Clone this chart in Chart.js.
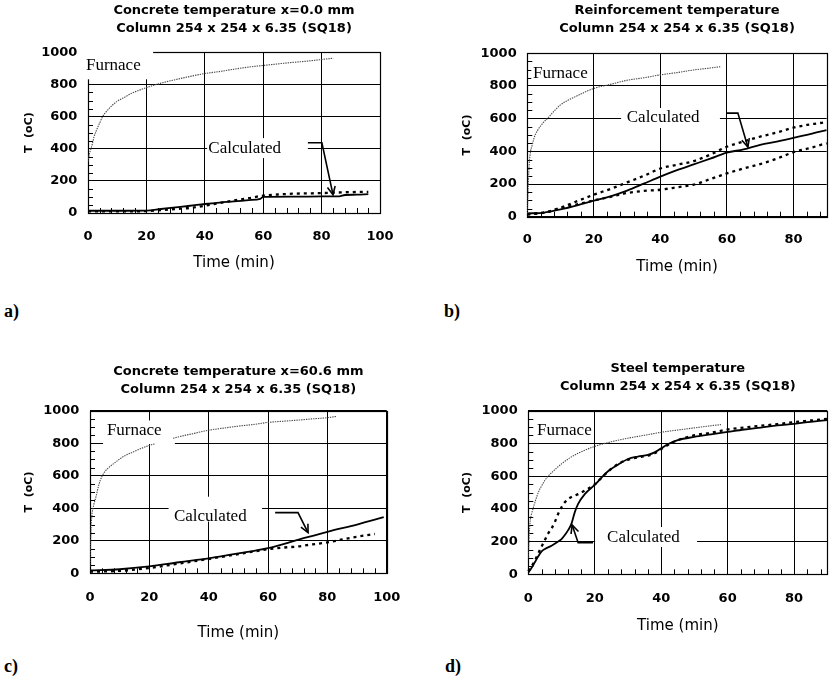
<!DOCTYPE html>
<html><head><meta charset="utf-8">
<script src="https://cdn.jsdelivr.net/npm/chart.js@4.4.0/dist/chart.umd.min.js"></script>
<style>
html,body{margin:0;padding:0;background:#fff}
body{width:835px;height:692px;position:relative;overflow:hidden}
canvas{position:absolute}
.lbl{position:absolute;font:bold 18px "Liberation Serif",serif;color:#000;line-height:18px}
</style></head><body>
<canvas id="ca" width="420" height="272" style="left:0px;top:0px"></canvas>
<canvas id="cb" width="415" height="276" style="left:420px;top:0px"></canvas>
<canvas id="cc" width="420" height="303" style="left:0px;top:340px"></canvas>
<canvas id="cd" width="415" height="295" style="left:420px;top:340px"></canvas>
<div class="lbl" style="left:4px;top:302px">a)</div>
<div class="lbl" style="left:444px;top:302px">b)</div>
<div class="lbl" style="left:4px;top:657px">c)</div>
<div class="lbl" style="left:445px;top:657px">d)</div>
<script>
// ---------- tick labels ----------
const yTickValues = [0, 200, 400, 600, 800, 1000];
const xTicks100 = [0, 20, 40, 60, 80, 100];
const xTicks90 = [0, 20, 40, 60, 80];

// ---------- titles ----------
const titleA = ['Concrete temperature x=0.0 mm', 'Column 254 x 254 x 6.35 (SQ18)'];
const titleB = ['Reinforcement temperature', 'Column 254 x 254 x 6.35 (SQ18)'];
const titleC = ['Concrete temperature x=60.6 mm', 'Column 254 x 254 x 6.35 (SQ18)'];
const titleD = ['Steel temperature', 'Column 254 x 254 x 6.35 (SQ18)'];
const xAxisTitle = 'Time (min)';
const yAxisTitle = 'T  (oC)';
const furnaceLabel = 'Furnace';
const calcLabel = 'Calculated';

// ---------- panel a) concrete x=0.0 mm ----------
const aFurnaceT = [0, 0.5, 1, 1.5, 2, 3, 4, 5, 6, 8, 10, 12, 15, 20, 25, 30, 35, 40, 45, 50, 55, 60, 65, 70, 75, 80, 84];
const aFurnaceV = [320, 370, 400, 430, 470, 520, 560, 600, 625, 665, 695, 715, 745, 780, 808, 830, 850, 868, 880, 895, 908, 918, 928, 937, 945, 955, 963];
const aCalcT = [0, 10, 20, 25, 30, 35, 40, 45, 50, 55, 59, 60, 70, 80, 86, 88, 92, 96];
const aCalcV = [14, 14, 15, 25, 35, 45, 56, 65, 72, 80, 88, 100, 102, 103, 104, 112, 114, 118];
const aTestT = [0, 10, 20, 25, 30, 35, 40, 45, 50, 55, 60, 65, 70, 75, 80, 85, 90, 96];
const aTestV = [10, 10, 12, 18, 25, 32, 45, 62, 78, 92, 108, 115, 120, 122, 124, 127, 130, 132];

// ---------- panel b) reinforcement ----------
const bFurnaceT = [0, 0.3, 0.6, 1, 1.5, 2, 3, 4, 5, 6, 8, 10, 12, 15, 20, 25, 30, 35, 40, 45, 50, 55, 58];
const bFurnaceV = [20, 200, 330, 400, 440, 480, 525, 555, 580, 600, 645, 685, 710, 740, 785, 810, 835, 850, 868, 882, 898, 910, 918];
const bCalcT = [0, 5, 10, 15, 20, 25, 30, 35, 40, 45, 50, 55, 60, 65, 70, 75, 80, 85, 90];
const bCalcV = [20, 25, 45, 70, 98, 125, 160, 202, 245, 285, 320, 355, 392, 412, 440, 460, 482, 505, 530];
const bTestUpperT = [0, 5, 10, 15, 20, 25, 30, 35, 40, 45, 50, 55, 60, 65, 70, 75, 80, 85, 90, 92];
const bTestUpperV = [15, 25, 55, 95, 135, 170, 210, 250, 295, 318, 340, 380, 428, 460, 490, 515, 545, 565, 582, 600];
const bTestLowerT = [0, 5, 10, 15, 20, 25, 30, 35, 40, 45, 50, 55, 60, 65, 70, 75, 80, 85, 90, 92];
const bTestLowerV = [15, 25, 50, 75, 100, 122, 145, 158, 165, 180, 196, 230, 265, 295, 322, 355, 395, 420, 449, 455];

// ---------- panel c) concrete x=60.6 mm ----------
const cFurnaceT = [0, 0.3, 0.6, 1, 2, 3, 4, 5, 6, 8, 10, 12, 15, 20, 22, 25, 28, 30, 35, 40, 45, 50, 55, 60, 65, 70, 75, 80, 83];
const cFurnaceV = [40, 250, 350, 400, 470, 545, 595, 625, 645, 675, 703, 725, 750, 787, 796, null, 830, 840, 860, 880, 893, 905, 915, 928, 935, 942, 950, 957, 965];
const cCalcT = [0, 10, 20, 30, 40, 50, 60, 70, 80, 90, 99];
const cCalcV = [18, 25, 42, 68, 92, 122, 155, 205, 255, 300, 345];
const cTestT = [0, 10, 20, 30, 40, 50, 60, 65, 70, 75, 80, 85, 90, 96];
const cTestV = [10, 15, 33, 60, 88, 118, 148, 158, 165, 178, 190, 208, 225, 242];

// ---------- panel d) steel ----------
const dFurnaceT = [0, 0.3, 0.6, 1, 2, 3, 4, 5, 6, 8, 10, 12, 15, 20, 25, 30, 35, 40, 45, 50, 55, 58];
const dFurnaceV = [100, 250, 330, 370, 440, 500, 540, 575, 600, 640, 675, 705, 740, 782, 810, 832, 850, 868, 882, 895, 908, 915];
const dCalcT = [0, 1, 2, 3, 4, 5, 7, 9, 10, 11, 12, 13, 14, 15, 17, 20, 22, 24, 27, 30, 33, 36, 38, 40, 42, 45, 50, 55, 60, 65, 70, 75, 80, 85, 90];
const dCalcV = [10, 40, 75, 110, 140, 155, 175, 200, 215, 240, 270, 310, 380, 430, 490, 546, 590, 630, 670, 705, 720, 730, 745, 770, 795, 820, 840, 855, 870, 885, 897, 910, 920, 932, 943];
const dTestT = [0, 1, 2, 3, 4, 5, 6, 7, 8, 9, 10, 11, 12, 13, 15, 17, 20, 22, 25, 28, 30, 33, 36, 38, 40, 42, 45, 50, 55, 60, 65, 70, 75, 80, 85, 90, 92];
const dTestV = [20, 50, 85, 128, 170, 210, 250, 280, 320, 370, 410, 440, 460, 472, 490, 512, 550, 590, 645, 685, 700, 715, 725, 740, 765, 790, 820, 850, 865, 885, 897, 908, 918, 930, 940, 950, 955];

// ---------- layout (pixels) ----------
const layouts = {
  a: {yW: 88, padR: 40, padB: 0, tLH: 17.6, tPT: 1.9, tPB: 15.2, xH: 59, xTickPad: 15.5, yTitlePad: 22.4, xMax: 100},
  b: {yW: 107.3, padR: 8.3, padB: 0.3, tLH: 17.6, tPT: 1.9, tPB: 16.2, xH: 59, xTickPad: 15.5, yTitlePad: 40.1, xMax: 90},
  c: {yW: 90, padR: 33.3, padB: 0.7, tLH: 18.3, tPT: 22.55, tPB: 11.55, xH: 69, xTickPad: 16.2, yTitlePad: 22.7, xMax: 100},
  d: {yW: 108.3, padR: 7.7, padB: 0, tLH: 18.4, tPT: 19.1, tPB: 14.8, xH: 60.7, xTickPad: 16.2, yTitlePad: 40.1, xMax: 90}
};

// annotation placement in data units: label [x, y], white boxes [x0, x1, y0, y1], arrow polyline
const annos = {
  a: {furn: [-0.7, 915], calc: [41.2, 404],
      boxes: [[-3, 22.3, 832, 1050], [40.8, 75.3, 342, 466]],
      arrow: [[75.3, 437], [80.1, 437], [83.9, 114]]},
  b: {furn: [1.7, 878], calc: [29.9, 604],
      boxes: [[1.2, 19, 820, 940], [28.2, 57.9, 543, 665]],
      arrow: [[60, 634], [63.3, 634], [66.3, 427]]},
  c: {furn: [5.7, 877], calc: [28.3, 348],
      boxes: [[4.4, 28.6, 795, 940], [26.5, 58, 318, 471]],
      arrow: [[62.4, 373], [70.1, 373], [73.5, 250]]},
  d: {furn: [2.6, 878], calc: [23.7, 226],
      boxes: [[2, 19.3, 825, 935], [20.1, 50.8, 167, 289]],
      arrow: [[19.5, 193], [15, 193], [13.2, 301]]}
};

const pts = (t, v) => t.map((x, i) => ({x: x, y: v[i]}));

const furnaceStyle = {borderColor: '#4a4a4a', borderWidth: 1.1, borderDash: [1.4, 1]};
const calcStyle = {borderColor: '#000', borderWidth: 1.8};
const testStyle = {borderColor: '#000', borderWidth: 2.3, borderDash: [3, 4]};

const annoPlugin = {
  id: 'anno',
  beforeDatasetsDraw(chart) {
    const {ctx, chartArea: ca, scales: {x, y}} = chart;
    const an = chart.options.plugins.anno;
    ctx.save();
    ctx.strokeStyle = '#000';
    ctx.lineWidth = 1;
    ctx.beginPath();
    for (let t = 4; t < x.max; t += 4) {
      if (t % 20 === 0) continue;
      const px = Math.round(x.getPixelForValue(t)) + 0.5;
      ctx.moveTo(px, ca.bottom);
      ctx.lineTo(px, ca.bottom - 5);
    }
    for (let v = 50; v < 1000; v += 50) {
      if (v % 200 === 0) continue;
      const py = Math.round(y.getPixelForValue(v)) + 0.5;
      ctx.moveTo(ca.left, py);
      ctx.lineTo(ca.left + 5, py);
    }
    ctx.stroke();
    ctx.lineWidth = 1.2;
    ctx.strokeRect(Math.round(ca.left) + 0.5, Math.round(ca.top) + 0.5,
      Math.round(ca.right) - Math.round(ca.left), Math.round(ca.bottom) - Math.round(ca.top));
    ctx.fillStyle = '#fff';
    an.boxes.forEach(b => {
      const x0 = x.getPixelForValue(b[0]), x1 = x.getPixelForValue(b[1]);
      const y0 = y.getPixelForValue(b[2]), y1 = y.getPixelForValue(b[3]);
      ctx.fillRect(x0, y1, x1 - x0, y0 - y1);
    });
    ctx.restore();
  },
  afterDatasetsDraw(chart) {
    const {ctx, scales: {x, y}} = chart;
    const an = chart.options.plugins.anno;
    ctx.save();
    ctx.fillStyle = '#000';
    ctx.font = '17px "Liberation Serif", "Times New Roman", serif';
    ctx.textBaseline = 'middle';
    ctx.textAlign = 'left';
    ctx.fillText(furnaceLabel, x.getPixelForValue(an.furn[0]), y.getPixelForValue(an.furn[1]));
    ctx.fillText(calcLabel, x.getPixelForValue(an.calc[0]), y.getPixelForValue(an.calc[1]));
    const p = an.arrow.map(q => [x.getPixelForValue(q[0]), y.getPixelForValue(q[1])]);
    ctx.strokeStyle = '#000';
    ctx.lineWidth = 1.6;
    ctx.beginPath();
    ctx.moveTo(p[0][0], p[0][1]);
    for (let i = 1; i < p.length; i++) ctx.lineTo(p[i][0], p[i][1]);
    ctx.stroke();
    const tip = p[p.length - 1], prev = p[p.length - 2];
    const ang = Math.atan2(tip[1] - prev[1], tip[0] - prev[0]);
    const L = 9, A = 0.45;
    ctx.beginPath();
    ctx.moveTo(tip[0] - L * Math.cos(ang - A), tip[1] - L * Math.sin(ang - A));
    ctx.lineTo(tip[0], tip[1]);
    ctx.lineTo(tip[0] - L * Math.cos(ang + A), tip[1] - L * Math.sin(ang + A));
    ctx.stroke();
    ctx.restore();
  }
};

function makeChart(id, key, title, xTicks, datasets) {
  const L = layouts[key];
  return new Chart(document.getElementById(id), {
    type: 'line',
    data: {datasets: datasets},
    plugins: [annoPlugin],
    options: {
      responsive: false,
      animation: false,
      devicePixelRatio: 1,
      layout: {padding: {left: 0, right: L.padR, top: 0, bottom: L.padB}},
      elements: {point: {radius: 0}, line: {tension: 0, cubicInterpolationMode: 'monotone'}},
      plugins: {
        legend: {display: false},
        tooltip: {enabled: false},
        title: {
          display: true, text: title, fullSize: false, color: '#000',
          font: {family: '"DejaVu Sans", sans-serif', size: 13, weight: 'bold', lineHeight: L.tLH + 'px'},
          padding: {top: L.tPT, bottom: L.tPB}
        },
        anno: annos[key]
      },
      scales: {
        x: {
          type: 'linear', min: 0, max: L.xMax,
          afterBuildTicks: s => { s.ticks = xTicks.map(v => ({value: v})); },
          afterFit: s => { s.height = L.xH; },
          grid: {color: '#000', lineWidth: 1, drawTicks: false},
          border: {color: '#000', width: 1},
          ticks: {color: '#000', padding: L.xTickPad, maxRotation: 0, callback: v => String(v),
            font: {family: '"DejaVu Sans", sans-serif', size: 13, weight: 'bold'}},
          title: {display: true, text: xAxisTitle, color: '#000', padding: {top: 0, bottom: 0},
            font: {family: '"DejaVu Sans", sans-serif', size: 15, weight: 'normal'}}
        },
        y: {
          type: 'linear', min: 0, max: 1000,
          afterBuildTicks: s => { s.ticks = yTickValues.map(v => ({value: v})); },
          afterFit: s => { s.width = L.yW; },
          grid: {color: '#000', lineWidth: 1, drawTicks: false},
          border: {color: '#000', width: 1},
          ticks: {color: '#000', padding: 10.6, callback: v => String(v),
            font: {family: '"DejaVu Sans", sans-serif', size: 13, weight: 'bold'}},
          title: {display: true, text: yAxisTitle, color: '#000', padding: {top: L.yTitlePad, bottom: 0},
            font: {family: '"DejaVu Sans", sans-serif', size: 11, weight: 'bold'}}
        }
      }
    }
  });
}

const looseClip = {left: 5, top: 5, right: 12, bottom: 5};

makeChart('ca', 'a', titleA, xTicks100, [
  Object.assign({label: 'Furnace', data: pts(aFurnaceT, aFurnaceV)}, furnaceStyle),
  Object.assign({label: 'Calculated', data: pts(aCalcT, aCalcV)}, calcStyle),
  Object.assign({label: 'Test', data: pts(aTestT, aTestV)}, testStyle)
]);
makeChart('cb', 'b', titleB, xTicks90, [
  Object.assign({label: 'Furnace', data: pts(bFurnaceT, bFurnaceV)}, furnaceStyle),
  Object.assign({label: 'Calculated', data: pts(bCalcT, bCalcV)}, calcStyle),
  Object.assign({label: 'Test 1', data: pts(bTestUpperT, bTestUpperV), clip: looseClip}, testStyle),
  Object.assign({label: 'Test 2', data: pts(bTestLowerT, bTestLowerV), clip: looseClip}, testStyle)
]);
makeChart('cc', 'c', titleC, xTicks100, [
  Object.assign({label: 'Furnace', data: pts(cFurnaceT, cFurnaceV), spanGaps: false}, furnaceStyle),
  Object.assign({label: 'Calculated', data: pts(cCalcT, cCalcV)}, calcStyle),
  Object.assign({label: 'Test', data: pts(cTestT, cTestV)}, testStyle)
]);
makeChart('cd', 'd', titleD, xTicks90, [
  Object.assign({label: 'Furnace', data: pts(dFurnaceT, dFurnaceV)}, furnaceStyle),
  Object.assign({label: 'Calculated', data: pts(dCalcT, dCalcV)}, calcStyle),
  Object.assign({label: 'Test', data: pts(dTestT, dTestV), clip: looseClip}, testStyle)
]);
</script>
</body></html>
